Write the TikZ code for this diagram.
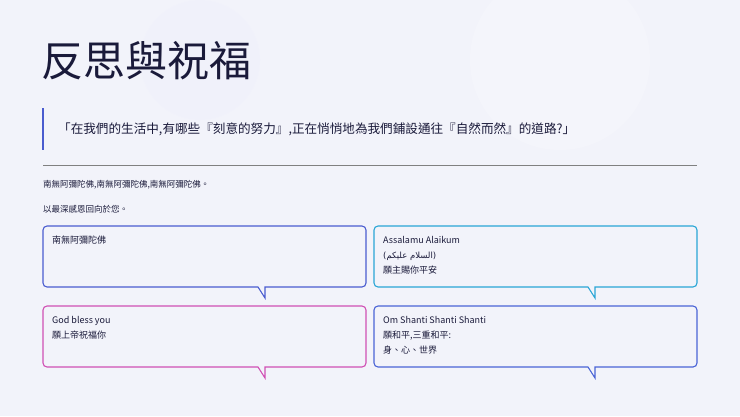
\documentclass[tikz,border=0pt]{standalone}
\usepackage{fontspec}
\setmainfont{Noto Sans CJK TC}
\newfontfamily\arabicfont[Script=Arabic]{DejaVu Sans}
\TeXXeTstate=1
\definecolor{bg}{HTML}{F2F3FA}
\definecolor{ink}{HTML}{1A1A3A}
\definecolor{cA}{HTML}{4A5CCF}
\definecolor{cB}{HTML}{2AA6D6}
\definecolor{cC}{HTML}{D04FB4}
\definecolor{cD}{HTML}{4A64D6}
\tikzset{bub/.style={line width=1.1pt},
 btext/.style={anchor=north west,align=left,font=\fontsize{9}{15}\selectfont,text=ink,inner sep=0pt},
 small/.style={anchor=west,font=\fontsize{8.5}{10}\selectfont,text=ink,inner sep=0pt}}
\newcommand{\bubble}[4]{% x1,y1,color,tail x
 \draw[bub,#3,rounded corners=4pt] (#1,#2) -- (#1+323,#2) -- (#1+323,#2+61) [sharp corners]-- (#4+7,#2+61) -- (#4+7,#2+72) -- (#4,#2+61) [rounded corners=4pt]-- (#1,#2+61) -- cycle;}
\begin{document}
\begin{tikzpicture}[x=1pt,y=-1pt]
\useasboundingbox (0,0) rectangle (740,416);
\clip (0,0) rectangle (740,416);
\fill[bg] (0,0) rectangle (740,416);
\fill[white,opacity=0.2] (560,60) circle (90);
\fill[blue!8,opacity=0.15] (200,60) circle (60);
\node[anchor=west,inner sep=0pt,text=ink,font=\fontsize{42}{44}\selectfont] (title) at (41,61) {反思與祝福};
\draw[cA,line width=1.2pt] (43,108) -- (43,150);
\node[anchor=west,inner sep=0pt,text=ink,font=\fontsize{12.6}{16}\selectfont] (quote) at (58,129) {「在我們的生活中,有哪些『刻意的努力』,正在悄悄地為我們鋪設通往『自然而然』的道路?」};
\draw[gray,line width=1pt] (43,165) -- (697,165);
\node[small] (l1) at (43,185) {南無阿彌陀佛,南無阿彌陀佛,南無阿彌陀佛。};
\node[small] (l2) at (43,209) {以最深感恩回向於您。};
\bubble{43}{226}{cA}{258}
\bubble{374}{226}{cB}{588}
\bubble{43}{306}{cC}{258}
\bubble{374}{306}{cD}{588}
\node[btext] (t1) at (52,236) {南無阿彌陀佛};
\node[btext] (t2) at (383,236) {Assalamu Alaikum\\{\arabicfont\fontsize{8.5}{15}\selectfont\beginR(السلام عليكم)\endR}\\願主賜你平安};
\node[btext] (t3) at (52,316) {God bless you\\願上帝祝福你};
\node[btext] (t4) at (383,316) {Om Shanti Shanti Shanti\\願和平,三重和平:\\身、心、世界};
\end{tikzpicture}
\end{document}
